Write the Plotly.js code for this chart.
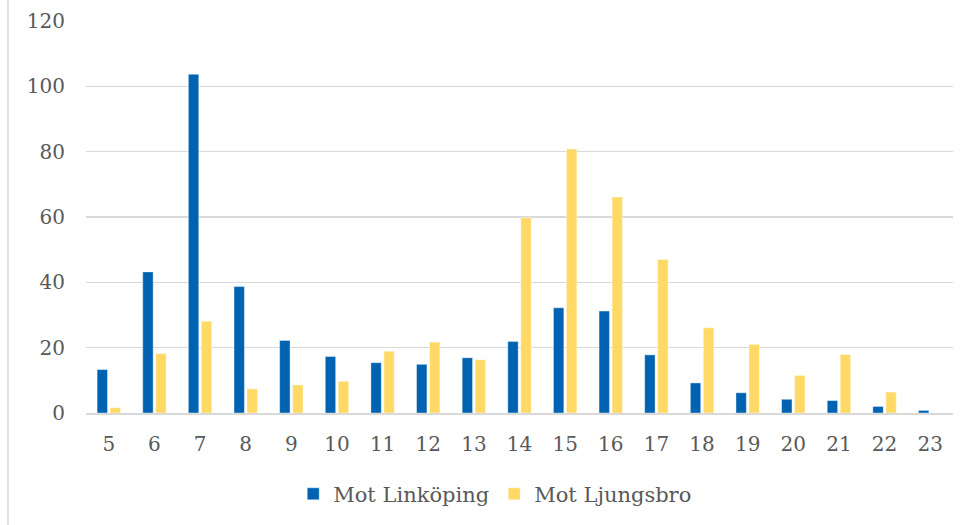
<!DOCTYPE html>
<html>
<head>
<meta charset="utf-8">
<script src="https://cdn.plot.ly/plotly-3.0.1.min.js"></script>
<style>html,body{margin:0;padding:0;background:#fff;}#chart{width:978px;height:525px;}</style>
</head>
<body>
<div id="chart"></div>
<script>
const hours = ["5","6","7","8","9","10","11","12","13","14","15","16","17","18","19","20","21","22","23"];
const motLinkoping = [13.3,43.2,103.7,38.7,22.2,17.3,15.4,14.9,16.9,21.9,32.2,31.2,17.8,9.2,6.2,4.2,3.8,2.0,0.8];
const motLjungsbro = [1.6,18.2,28.1,7.4,8.6,9.7,18.9,21.7,16.3,59.8,80.8,66.1,47.0,26.1,21.0,11.5,17.9,6.4,0];
const yTicks = [0,20,40,60,80,100,120];

const fontFam = "'DejaVu Serif', serif";
const textColor = "#595959";

const data = [
  {type:"bar", name:"Mot Linköping", x:hours, y:motLinkoping,
   marker:{color:"#0063B1", line:{color:"rgba(255,255,255,0.5)", width:0.8}}},
  {type:"bar", name:"Mot Ljungsbro", x:hours, y:motLjungsbro,
   marker:{color:"#FFD966", line:{color:"rgba(255,255,255,0.5)", width:0.8}}}
];

const layout = {
  width:978, height:525,
  margin:{l:86, r:25, t:21, b:111},
  paper_bgcolor:"#fff", plot_bgcolor:"#fff",
  barmode:"group", bargap:0.43, bargroupgap:0.2,
  font:{family:fontFam, color:textColor, size:20},
  showlegend:true,
  legend:{orientation:"h", x:0.472, xanchor:"center", y:-0.204, yanchor:"middle",
          font:{family:fontFam, size:21, color:textColor}, itemclick:false},
  xaxis:{type:"category", showgrid:false, showline:true, linecolor:"#D9D9D9", linewidth:1.5,
         ticks:"", tickfont:{family:fontFam, size:20, color:textColor}, ticklabelstandoff:12, fixedrange:true},
  yaxis:{range:[0,120], tickvals:yTicks, ticktext:yTicks.map(String), showgrid:true, gridcolor:"#D9D9D9", gridwidth:1.3,
         zeroline:false, showline:false, ticks:"", tickfont:{family:fontFam, size:20, color:textColor},
         ticklabelstandoff:20, fixedrange:true},
  shapes:[{type:"line", xref:"paper", yref:"paper", x0:-0.09, x1:-0.09, y0:-0.3, y1:1.06,
           line:{color:"#D9D9D9", width:1.5}}]
};

Plotly.newPlot("chart", data, layout, {displayModeBar:false, staticPlot:true});
</script>
</body>
</html>
